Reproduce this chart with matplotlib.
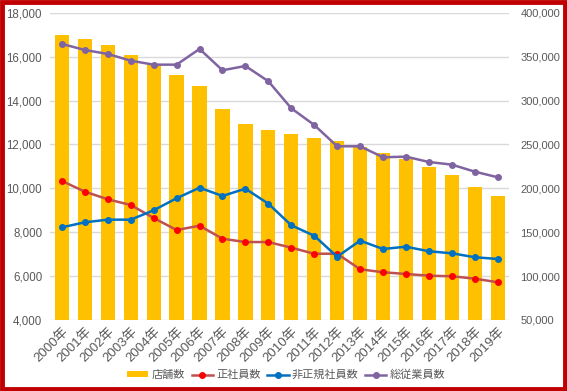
import matplotlib

matplotlib.use("Agg")
import matplotlib.pyplot as plt
from matplotlib.patches import Rectangle
from matplotlib.ticker import FuncFormatter, MultipleLocator

years = [f"{y}年" for y in range(2000, 2020)]

# stores (left axis)
stores = [16990, 16790, 16520, 16080, 15650, 15180, 14670, 13600, 12930, 12660,
          12490, 12310, 12150, 11900, 11630, 11330, 10980, 10600, 10050, 9640]
# employees (right axis)
regular = [208400, 196200, 187500, 181000, 166200, 152500, 157400, 142600, 138800, 138800,
           132400, 125500, 125500, 107800, 104400, 102400, 100500, 99800, 97100, 93000]
non_regular = [155600, 161300, 164300, 164300, 175000, 188700, 200700, 191300, 199600, 182500,
               157900, 146000, 122100, 140400, 130900, 133500, 128300, 126000, 121500, 119500]
total = [364500, 357600, 353100, 345400, 340900, 340900, 358800, 334500, 339400, 322000,
         291200, 272200, 247900, 247900, 235400, 236100, 230000, 227000, 219000, 212600]

TEXT = "#595959"
FONTS = ["Liberation Sans", "Noto Sans CJK JP"]
plt.rcParams["font.family"] = FONTS

fig = plt.figure(figsize=(5.67, 3.91), dpi=100)
ax = fig.add_axes([0.089, 0.1816, 0.809, 0.7857])
ax2 = ax.twinx()

x = list(range(len(years)))
ax.bar(x, stores, width=0.62, color="#FFC000", label="店舗数", zorder=2)
ax.set_ylim(4000, 18000)
ax.yaxis.set_major_locator(MultipleLocator(2000))
ax.yaxis.set_major_formatter(FuncFormatter(lambda v, p: f"{int(v):,}"))
ax.grid(axis="y", color="#D9D9D9", lw=1, zorder=0)
ax.set_axisbelow(True)
ax.set_xlim(-0.5, len(years) - 0.5)
ax.set_xticks(x)
ax.set_xticklabels(years, rotation=45, ha="right", rotation_mode="anchor")

line_kw = dict(lw=1.8, marker="o", markersize=4)
ax2.plot(x, regular, color="#C0504D", mfc="#FF0000", mec="#FF0000", label="正社員数", **line_kw)
ax2.plot(x, non_regular, color="#0070C0", label="非正規社員数", **line_kw)
ax2.plot(x, total, color="#8064A2", label="総従業員数", **line_kw)
ax2.set_ylim(50000, 400000)
ax2.yaxis.set_major_locator(MultipleLocator(50000))
ax2.yaxis.set_major_formatter(FuncFormatter(lambda v, p: f"{int(v):,}"))

for a in (ax, ax2):
    for s in a.spines.values():
        s.set_visible(False)
    a.tick_params(length=0, colors=TEXT, labelsize=8)
ax.tick_params(axis="x", labelsize=9.5, pad=4)
ax.tick_params(axis="y", labelsize=8.3, pad=6)
ax2.tick_params(axis="y", pad=8)

h1, l1 = ax.get_legend_handles_labels()
h2, l2 = ax2.get_legend_handles_labels()
leg = fig.legend(h1 + h2, l1 + l2, loc="center", bbox_to_anchor=(0.505, 0.041), ncol=4,
                 frameon=False, fontsize=8, handlelength=1.9, handleheight=0.5,
                 columnspacing=0.6, handletextpad=0.3)
for t in leg.get_texts():
    t.set_color(TEXT)

fig.patches.append(Rectangle((0.003, 0.004), 0.994, 0.992, transform=fig.transFigure,
                             fill=False, edgecolor="#C00000", lw=3.5))

fig.savefig("out.png", dpi=100)
